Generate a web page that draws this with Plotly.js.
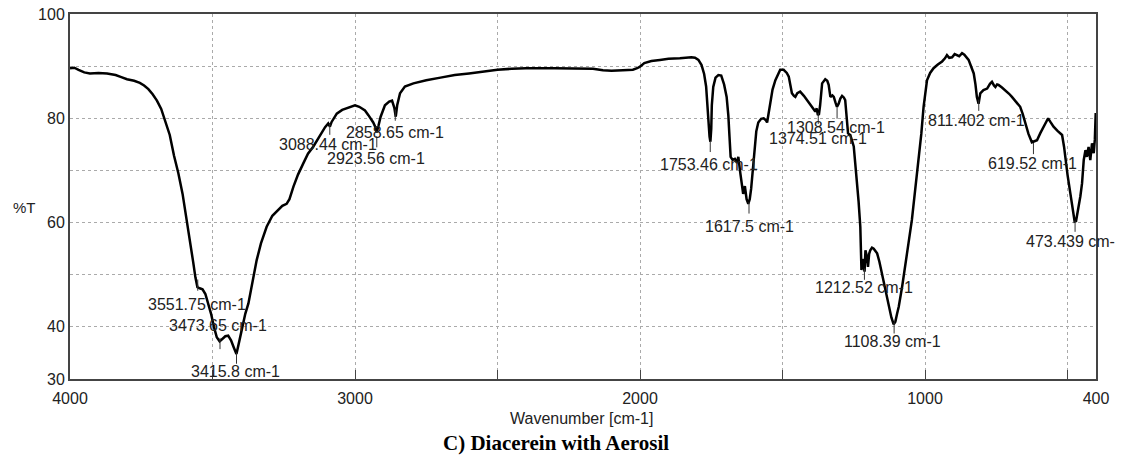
<!DOCTYPE html>
<html>
<head>
<meta charset="utf-8">
<script src="https://cdn.plot.ly/plotly-3.0.1.min.js"></script>
<style>
  html, body { margin: 0; padding: 0; background: #fff; }
  #chart { width: 1122px; height: 459px; }
</style>
</head>
<body>
<div id="chart"></div>
<script>
// FTIR spectrum: wavenumber (cm-1) and transmittance (%T)
const wavenumber = [
  4000, 3985, 3970, 3950, 3930, 3900, 3870, 3840, 3820, 3800, 3775, 3755, 3740, 3725, 3710, 3695, 3680, 3665, 3650, 3635,
  3620, 3605, 3590, 3578, 3568, 3560, 3553, 3545, 3535, 3525, 3515, 3505, 3495, 3485, 3475, 3465, 3455, 3445, 3435, 3425,
  3416, 3405, 3395, 3385, 3374, 3360, 3345, 3330, 3310, 3290, 3275, 3255, 3240, 3230, 3216, 3200, 3181, 3165, 3146, 3125,
  3105, 3094, 3088, 3082, 3064, 3045, 3029, 3015, 3000, 2985, 2977, 2965, 2953, 2945, 2936, 2930, 2924, 2918, 2910, 2895,
  2880, 2870, 2862, 2857, 2852, 2842, 2825, 2795, 2750, 2700, 2650, 2600, 2560, 2500, 2450, 2400, 2300, 2200, 2165, 2130,
  2100, 2060, 2025, 2010, 2000, 1985, 1960, 1930, 1900, 1860, 1836, 1820, 1807, 1795, 1784, 1775, 1768, 1763, 1760, 1756,
  1753, 1750, 1748, 1743, 1735, 1725, 1715, 1705, 1696, 1690, 1686, 1682, 1675, 1667, 1660, 1655, 1648, 1643, 1638, 1632,
  1626, 1620, 1615, 1610, 1605, 1598, 1592, 1585, 1575, 1566, 1558, 1554, 1548, 1543, 1535, 1525, 1515, 1508, 1496, 1485,
  1478, 1472, 1467, 1460, 1455, 1448, 1438, 1425, 1414, 1405, 1396, 1390, 1385, 1380, 1376, 1372, 1368, 1361, 1350, 1343,
  1338, 1332, 1325, 1320, 1314, 1309, 1303, 1297, 1291, 1285, 1280, 1275, 1270, 1262, 1256, 1250, 1245, 1239, 1233, 1227,
  1223, 1219, 1215, 1212, 1209, 1204, 1200, 1196, 1192, 1186, 1180, 1168, 1160, 1151, 1140, 1127, 1118, 1110, 1104, 1098,
  1092, 1080, 1069, 1058, 1046, 1034, 1022, 1013, 1005, 998, 993, 982, 970, 955, 940, 930, 923, 915, 905, 896,
  888, 880, 870, 862, 847, 838, 829, 823, 818, 812, 806, 795, 782, 772, 765, 758, 753, 747, 742, 730,
  718, 705, 695, 680, 666, 657, 648, 637, 625, 618, 607, 595, 584, 575, 568, 560, 549, 535, 519, 512,
  508, 500, 490, 482, 475, 470, 461, 455, 449, 443, 437, 432, 426, 420, 414, 408, 404, 401
];
const transmittance = [
  89.6, 89.7, 89.3, 88.8, 88.6, 88.7, 88.6, 88.3, 87.9, 87.5, 87.2, 86.8, 86.3, 85.6, 84.6, 83.4, 81.8, 79.3, 76.8, 72.8,
  69.5, 65.5, 60.5, 56.5, 52.5, 49.5, 47.6, 47.4, 47.2, 46.3, 44.5, 42.5, 40.0, 38.0, 37.2, 37.8, 38.2, 38.3, 37.4, 36.0,
  34.8, 37.5, 40.0, 42.5, 44.5, 48.5, 52.8, 56.0, 59.2, 61.3, 62.2, 63.2, 63.6, 64.5, 66.9, 69.2, 71.4, 73.2, 74.6, 76.5,
  78.3, 79.0, 78.4, 79.3, 80.9, 81.6, 81.9, 82.3, 82.5, 82.2, 81.9, 81.5, 80.6, 80.0, 79.2, 78.5, 77.3, 78.5, 80.3, 82.5,
  83.2, 83.4, 82.0, 80.3, 82.5, 84.8, 86.1, 86.7, 87.3, 87.8, 88.3, 88.6, 88.9, 89.3, 89.5, 89.6, 89.6, 89.6, 89.5, 89.2,
  89.1, 89.2, 89.3, 89.6, 89.9, 90.6, 91.0, 91.2, 91.4, 91.5, 91.7, 91.7, 91.6, 91.2, 90.2, 88.5, 86.1, 81.5, 78.5, 76.5,
  75.5, 78.0, 82.5, 86.0, 87.8, 88.3, 88.2, 86.5, 84.1, 80.5, 76.5, 72.6, 72.0, 72.2, 71.5, 72.6, 69.5, 66.9, 65.5, 67.0,
  64.5, 63.6, 64.5, 66.5, 70.0, 74.5, 77.5, 79.2, 79.9, 80.0, 79.6, 79.2, 81.0, 82.9, 85.5, 87.3, 88.6, 89.3, 89.3, 88.7,
  88.0, 86.5, 84.8, 84.3, 84.1, 84.8, 85.1, 84.3, 83.5, 83.0, 82.2, 81.7, 81.3, 81.9, 80.6, 80.8, 82.5, 86.7, 87.5, 87.2,
  86.4, 84.1, 84.4, 84.1, 83.0, 82.2, 82.8, 83.8, 84.3, 84.0, 83.5, 80.5, 77.1, 76.8, 75.8, 74.6, 71.5, 68.2, 64.0, 59.2,
  50.9, 53.0, 51.2, 50.6, 54.7, 53.5, 51.5, 54.0, 54.7, 55.2, 55.0, 54.1, 52.5, 50.3, 47.5, 43.9, 41.8, 40.5, 41.0, 42.5,
  43.9, 47.8, 51.5, 56.0, 60.5, 66.5, 72.0, 77.0, 82.2, 85.5, 87.3, 88.7, 89.6, 90.3, 90.9, 91.5, 92.1, 91.6, 91.7, 92.3,
  92.1, 91.9, 92.5, 92.2, 91.2, 90.0, 88.6, 86.5, 84.1, 82.8, 84.8, 85.4, 85.7, 86.6, 87.0, 86.3, 86.0, 86.5, 86.4, 85.9,
  85.4, 84.7, 84.1, 83.2, 82.2, 80.8, 79.0, 77.0, 75.4, 75.5, 75.8, 77.2, 78.4, 79.5, 80.0, 79.3, 78.4, 77.6, 76.8, 74.5,
  72.6, 69.2, 65.6, 62.5, 60.2, 60.3, 63.0, 65.0, 67.5, 72.0, 73.9, 72.6, 74.5, 72.0, 75.2, 73.3, 76.0, 81.0
];

// Picked peaks: wavenumber, tick-mark level and label text
const peakWn = [3551.75, 3473.65, 3415.8, 3088.44, 2923.56, 2858.65, 1753.46, 1617.5, 1374.51, 1308.54, 1212.52, 1108.39, 811.402, 619.52, 473.439];
const peakMarkT = [48.0, 36.8, 34.0, 77.9, 75.5, 80.6, 74.6, 62.8, 80.0, 81.0, 50.1, 39.8, 82.5, 74.2, 59.3];
const peakLabels = ["3551.75 cm-1", "3473.65 cm-1", "3415.8 cm-1", "3088.44 cm-1", "2923.56 cm-1", "2858.65 cm-1",
  "1753.46 cm-1", "1617.5 cm-1", "1374.51 cm-1", "1308.54 cm-1", "1212.52 cm-1", "1108.39 cm-1",
  "811.402 cm-1", "619.52 cm-1", "473.439 cm-"];
// Where each label's left edge sits (wavenumber, %T)
const labelWn = [3733, 3661, 3581, 3273, 3105, 3039, 1936, 1780, 1554, 1490, 1393, 1291, 997, 786, 654];
const labelT = [44.2, 40.2, 31.4, 74.9, 72.3, 77.3, 71.2, 59.3, 76.2, 78.2, 47.6, 37.2, 79.5, 71.4, 56.3];

const xTickVals = [4000, 3500, 3000, 2500, 2000, 1500, 1000, 500, 400];
const xTickText = ["4000", "", "3000", "", "2000", "", "1000", "", "400"];
const yTickVals = [30, 40, 50, 60, 70, 80, 90, 100];
const yTickText = ["30", "40", "", "60", "", "80", "", "100"];

const sans = "Liberation Sans, Arial, sans-serif";

const traces = [
  {
    x: wavenumber, y: transmittance, type: "scatter", mode: "lines",
    line: { color: "#000", width: 2.5 }, hoverinfo: "skip"
  },
  {
    x: peakWn, y: peakMarkT, type: "scatter", mode: "markers",
    marker: { symbol: "line-ns", size: 8, line: { color: "#333", width: 1 } },
    hoverinfo: "skip"
  }
];

const annotations = peakLabels.map((t, i) => ({
  x: labelWn[i], y: labelT[i], xref: "x", yref: "y",
  text: t, showarrow: false, xanchor: "left", yanchor: "middle",
  font: { family: sans, size: 16, color: "#222" }
}));

annotations.push(
  { xref: "paper", yref: "paper", x: -0.0575, y: 0.471, xanchor: "left", yanchor: "middle",
    text: "%T", showarrow: false, font: { family: sans, size: 15, color: "#222" } },
  { xref: "paper", yref: "paper", x: 0.499, y: -0.107, xanchor: "center", yanchor: "middle",
    text: "Wavenumber [cm-1]", showarrow: false, font: { family: sans, size: 16, color: "#222" } },
  { xref: "paper", yref: "paper", x: 0.4737, y: -0.1753, xanchor: "center", yanchor: "middle",
    text: "<b>C) Diacerein with Aerosil</b>", showarrow: false,
    font: { family: "Liberation Serif, Times New Roman, serif", size: 21, color: "#000" } }
);

const layout = {
  width: 1122, height: 459,
  margin: { l: 70, r: 26, t: 14, b: 80 },
  paper_bgcolor: "#fff", plot_bgcolor: "#fff",
  showlegend: false,
  xaxis: {
    range: [4000, 400], autorange: false,
    tickmode: "array", tickvals: xTickVals, ticktext: xTickText,
    ticks: "inside", ticklen: 9, tickcolor: "#444", tickwidth: 1,
    showgrid: true, gridcolor: "#aaa", griddash: "dot", gridwidth: 1,
    showline: true, mirror: true, linecolor: "#444", linewidth: 2,
    zeroline: false, ticklabelstandoff: 4,
    tickfont: { family: sans, size: 16, color: "#222" }
  },
  yaxis: {
    range: [30, 100], autorange: false,
    tickmode: "array", tickvals: yTickVals, ticktext: yTickText,
    ticks: "", showgrid: true, gridcolor: "#aaa", griddash: "dot", gridwidth: 1,
    showline: true, mirror: true, linecolor: "#444", linewidth: 2,
    zeroline: false,
    tickfont: { family: sans, size: 16, color: "#222" }
  },
  annotations: annotations
};

Plotly.newPlot("chart", traces, layout, { staticPlot: true, displayModeBar: false });
</script>
</body>
</html>
